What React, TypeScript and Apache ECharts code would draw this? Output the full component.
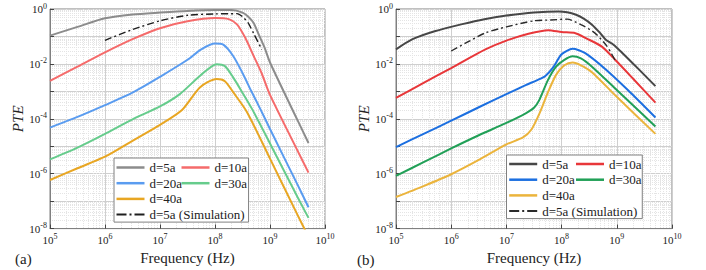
import React, { useEffect, useRef } from 'react';
import * as echarts from 'echarts';

// ---------- data (log10 of frequency in Hz, log10 of PTE) ----------
// panel (a)
const aGrayF = [5, 5.5, 6, 6.5, 7, 7.5, 8, 8.3, 8.5, 8.6, 8.7, 8.8, 8.9, 9, 9.5, 9.7];
const aGrayP = [-0.97, -0.65, -0.34, -0.2, -0.13, -0.07, -0.04, -0.04, -0.13, -0.27, -0.5, -0.95, -1.4, -1.95, -4.05, -4.88];
const aSimF = [6, 6.5, 7, 7.5, 8, 8.4, 8.5, 8.6, 8.7, 8.85];
const aSimP = [-1.14, -0.75, -0.43, -0.23, -0.18, -0.17, -0.28, -0.5, -0.88, -1.47];
const aRedF = [5, 5.5, 6, 6.5, 7, 7.5, 8, 8.25, 8.4, 8.55, 8.7, 8.85, 9, 9.5, 9.7];
const aRedP = [-2.62, -2.1, -1.58, -1.1, -0.7, -0.45, -0.33, -0.37, -0.56, -1.05, -1.7, -2.35, -3.13, -5.16, -5.96];
const aBlueF = [5, 5.5, 6, 6.5, 7, 7.5, 7.75, 8, 8.15, 8.33, 8.5, 8.65, 8.82, 9, 9.5, 9.7];
const aBlueP = [-4.32, -3.93, -3.5, -3.05, -2.47, -1.85, -1.47, -1.26, -1.3, -1.71, -2.33, -2.95, -3.63, -4.37, -6.4, -7.22];
const aGreenF = [5, 5.5, 6, 6.5, 7, 7.36, 7.73, 8.03, 8.18, 8.33, 8.5, 8.67, 9, 9.5, 9.7];
const aGreenP = [-5.48, -5.05, -4.55, -4.02, -3.55, -3.1, -2.43, -2.01, -2.08, -2.49, -3.05, -3.63, -4.9, -6.85, -7.61];
const aOrangeF = [5, 5.5, 6, 6.5, 7, 7.4, 7.73, 8.03, 8.18, 8.33, 8.58, 9, 9.5, 9.7];
const aOrangeP = [-6.23, -5.8, -5.38, -4.8, -4.22, -3.68, -2.85, -2.55, -2.63, -3.03, -3.75, -5.45, -7.5, -8.3];

// panel (b)
const bGrayF = [5, 5.3, 5.7, 6.2, 6.6, 7, 7.5, 7.95, 8.1, 8.25, 8.4, 8.55, 8.7, 8.8, 8.94, 9.1, 9.4, 9.7];
const bGrayP = [-1.47, -1.1, -0.81, -0.55, -0.37, -0.24, -0.13, -0.09, -0.12, -0.2, -0.35, -0.57, -0.88, -1.12, -1.3, -1.6, -2.2, -2.81];
const bSimF = [6, 6.3, 6.62, 7, 7.5, 7.8, 8.1, 8.35, 8.6, 8.82, 8.97];
const bSimP = [-1.53, -1.2, -0.87, -0.65, -0.43, -0.4, -0.37, -0.57, -0.87, -1.35, -1.87];
const bRedF = [5, 5.5, 6, 6.62, 7, 7.4, 7.76, 8.0, 8.25, 8.45, 8.73, 8.97, 9.3, 9.7];
const bRedP = [-3.24, -2.69, -2.15, -1.47, -1.15, -0.9, -0.77, -0.84, -0.88, -1.07, -1.37, -1.85, -2.55, -3.41];
const bBlueF = [5, 5.5, 6, 6.5, 7, 7.35, 7.55, 7.7, 7.85, 8.0, 8.2, 8.42, 8.8, 9.2, 9.7];
const bBlueP = [-5.03, -4.55, -4.07, -3.58, -3.1, -2.77, -2.6, -2.45, -2.12, -1.65, -1.45, -1.6, -2.2, -2.95, -3.95];
const bGreenF = [5, 5.5, 6, 6.5, 7, 7.35, 7.5, 7.6, 7.75, 7.9, 8.05, 8.2, 8.35, 8.55, 9.0, 9.7];
const bGreenP = [-6.08, -5.58, -5.08, -4.6, -4.15, -3.8, -3.6, -3.3, -2.6, -2.1, -1.85, -1.72, -1.8, -2.1, -2.95, -4.28];
const bOrangeF = [5, 5.5, 6, 6.5, 7, 7.3, 7.45, 7.6, 7.75, 7.9, 8.05, 8.2, 8.35, 8.55, 9.0, 9.7];
const bOrangeP = [-6.85, -6.45, -6.02, -5.5, -4.93, -4.68, -4.4, -3.8, -3.05, -2.4, -2.05, -1.95, -2.05, -2.3, -3.2, -4.55];

const names = ['d=5a', 'd=10a', 'd=20a', 'd=30a', 'd=40a', 'd=5a (Simulation)'];
const colorsA = ['#8c8c8c', '#f56b6b', '#5a9cf0', '#66cc8c', '#e8a623', '#1e1e1e'];
const colorsB = ['#474747', '#e8373a', '#1c6fe0', '#21a057', '#ebb43c', '#2a2a2a'];

const FONT = 'Liberation Serif';

const SOLID_ICON = 'rect';
const DASHDOT_ICON = 'path://M0,0h10v2h-10zM13,0h2v2h-2zM18,0h10v2h-10z';

const toData = (lf: number[], lp: number[]) =>
  lf.map((x, i) => [Math.pow(10, x), Math.pow(10, lp[i])]);

const supLabel = (v: number, everyOther: boolean) => {
  const e = Math.round(Math.log10(v));
  if (everyOther && e % 2 !== 0) return '';
  return '{b|10}{s|' + (e === 0 ? '0' : String(e)) + '}';
};

const rich = {
  b: { fontSize: 11, lineHeight: 14, fontFamily: FONT, color: '#222', verticalAlign: 'middle' },
  s: { fontSize: 8, lineHeight: 8, fontFamily: FONT, color: '#222', verticalAlign: 'top' },
};

const makeX = (gi: number) => ({
  type: 'log',
  logBase: 10,
  gridIndex: gi,
  min: 1e5,
  max: 1e10,
  name: 'Frequency (Hz)',
  nameLocation: 'middle',
  nameGap: 18,
  nameTextStyle: { fontSize: 15, fontFamily: FONT, color: '#222' },
  axisLine: { show: true, lineStyle: { color: '#808080', width: 1 } },
  axisTick: { show: true, inside: true, length: 4, lineStyle: { color: '#444' } },
  minorTick: { show: false, splitNumber: 9 },
  splitLine: { show: true, lineStyle: { color: '#cfcfcf', width: 1 } },
  minorSplitLine: { show: true, lineStyle: { color: '#e4e4e4', width: 1, type: [1, 1] } },
  axisLabel: { margin: 4, formatter: (v: number) => supLabel(v, false), rich },
});

const makeY = (gi: number) => ({
  type: 'log',
  logBase: 10,
  gridIndex: gi,
  min: 1e-8,
  max: 1,
  name: 'PTE',
  nameLocation: 'middle',
  nameGap: 25,
  nameTextStyle: { fontSize: 15, fontFamily: FONT, fontStyle: 'italic', color: '#222' },
  axisLine: { show: true, lineStyle: { color: '#808080', width: 1 } },
  axisTick: { show: true, inside: true, length: 4, lineStyle: { color: '#444' } },
  minorTick: { show: false, splitNumber: 9 },
  splitLine: { show: true, lineStyle: { color: '#cfcfcf', width: 1 } },
  minorSplitLine: { show: true, lineStyle: { color: '#e4e4e4', width: 1, type: [1, 1] } },
  axisLabel: { margin: 3, formatter: (v: number) => supLabel(v, true), rich },
});

const mkSeries = (name: string, data: number[][], color: string, idx: number, dash: boolean) => ({
  type: 'line',
  name,
  data,
  xAxisIndex: idx,
  yAxisIndex: idx,
  symbol: 'none',
  showSymbol: false,
  smooth: 0.25,
  clip: true,
  z: dash ? 3 : 2,
  lineStyle: dash
    ? { color, width: 1.4, type: [7, 3, 2, 3] }
    : { color, width: 2 },
  itemStyle: { color },
});

const legendBase = {
  orient: 'vertical',
  itemWidth: 28,
  itemHeight: 2.5,
  itemGap: 2.7,
  selectedMode: false,
  textStyle: { fontSize: 13, fontFamily: FONT, color: '#222' },
};

const icoFor = (n: string) => ({ name: n, icon: n.indexOf('Simulation') >= 0 ? DASHDOT_ICON : SOLID_ICON });

export default function App() {
  const ref = useRef<HTMLDivElement>(null);
  useEffect(() => {
    if (!ref.current) return;
    const chart = echarts.init(ref.current, undefined, { renderer: 'svg' });
    const aData = [
      toData(aGrayF, aGrayP), toData(aRedF, aRedP), toData(aBlueF, aBlueP),
      toData(aGreenF, aGreenP), toData(aOrangeF, aOrangeP), toData(aSimF, aSimP),
    ];
    const bData = [
      toData(bGrayF, bGrayP), toData(bRedF, bRedP), toData(bBlueF, bBlueP),
      toData(bGreenF, bGreenP), toData(bOrangeF, bOrangeP), toData(bSimF, bSimP),
    ];
    const series: any[] = [];
    names.forEach((n, i) => series.push(mkSeries(n, aData[i], colorsA[i], 0, i === 5)));
    names.forEach((n, i) => series.push(mkSeries(n + '#b', bData[i], colorsB[i], 1, i === 5)));
    const strip = (n: string) => n.replace('#b', '');
    chart.setOption({
      animation: false,
      backgroundColor: '#fff',
      textStyle: { fontFamily: FONT },
      grid: [
        { left: 50, width: 275, top: 9, height: 223, show: true, borderColor: '#808080', borderWidth: 1 },
        { left: 396, width: 276, top: 9, height: 223, show: true, borderColor: '#808080', borderWidth: 1 },
      ],
      xAxis: [makeX(0), makeX(1)],
      yAxis: [makeY(0), makeY(1)],
      legend: [
        {
          ...legendBase,
          data: ['d=5a', 'd=20a', 'd=40a', 'd=5a (Simulation)'].map(icoFor),
          left: 114, top: 158,
          padding: [3, 4, 1, 2.5],
          borderColor: '#808080', borderWidth: 1, backgroundColor: '#fff',
        },
        { ...legendBase, data: ['d=10a', 'd=30a'].map(icoFor), left: 181.5, top: 161, padding: 0 },
        {
          ...legendBase,
          data: ['d=5a#b', 'd=20a#b', 'd=40a#b', 'd=5a (Simulation)#b'].map(icoFor),
          formatter: strip,
          left: 506.5, top: 155,
          padding: [2.5, 5, 1, 2.7],
          borderColor: '#808080', borderWidth: 1, backgroundColor: '#fff',
        },
        { ...legendBase, data: ['d=10a#b', 'd=30a#b'].map(icoFor), formatter: strip, left: 576, top: 157.5, padding: 0 },
      ],
      graphic: [
        { type: 'text', x: 15, y: 259, style: { text: '(a)', fontSize: 15, fontFamily: FONT, fill: '#222', verticalAlign: 'middle' } },
        { type: 'text', x: 357, y: 260, style: { text: '(b)', fontSize: 15, fontFamily: FONT, fill: '#222', verticalAlign: 'middle' } },
      ],
      series,
    });
    return () => chart.dispose();
  }, []);
  return <div ref={ref} style={{ position: 'fixed', left: 0, top: 0, width: 706, height: 270 }} />;
}
